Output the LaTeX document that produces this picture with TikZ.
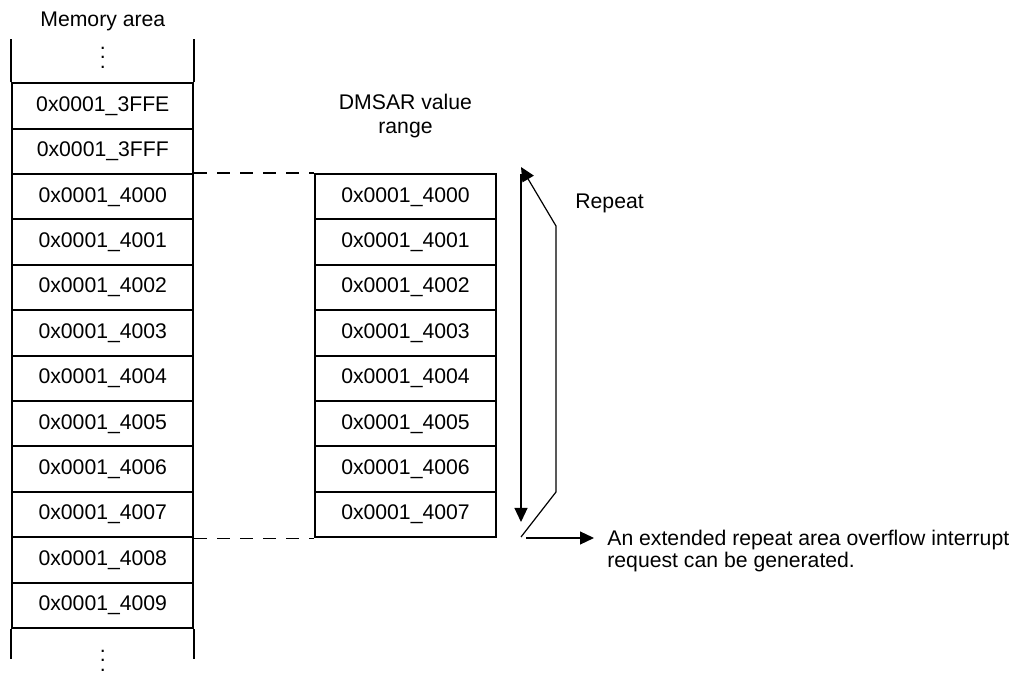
\documentclass[tikz,border=0pt]{standalone}
\usepackage{fontspec}
\setmainfont{Liberation Sans}
\usetikzlibrary{arrows.meta,positioning}
\newcommand{\coldots}{\vbox{\baselineskip4.75pt\lineskiplimit0pt\hbox{.}\hbox{.}\hbox{.}}}

\begin{document}
\begin{tikzpicture}[x=0.5pt, y=-0.5pt, >={Triangle[length=7pt,width=6.5pt]},
  cell/.style={draw, line width=1pt, minimum width=90.5pt, minimum height=22.7pt,
    inner sep=0pt, font=\fontsize{10.6}{12}\selectfont},
  lbl/.style={font=\fontsize{10.6}{11}\selectfont, inner sep=0pt},
  guide/.style={line width=0.6pt, dash pattern=on 6.5pt off 5pt},
  flow/.style={line width=0.6pt}]
\useasboundingbox (0,0) rectangle (1019,673);
% memory area column
\node[lbl] (memttl) at (102.8,21) {Memory area};
\foreach \a [count=\k] in {3FFE,3FFF,4000,4001,4002,4003,4004,4005,4006,4007,4008,4009}
  \node[cell] (m\k) at (102.8,{60.6+45.4*\k}) {0x0001\_\a};
\draw[line width=1pt] (m1.north west) -- ++(0,-43.3);
\draw[line width=1pt] (m1.north east) -- ++(0,-43.3);
\draw[line width=1pt] (m12.south west) -- ++(0,30);
\draw[line width=1pt] (m12.south east) -- ++(0,30);
\node[lbl, anchor=base] (topdots) at (102.8,68.5) {\coldots};
\node[lbl, anchor=base] (botdots) at (102.8,671.5) {\coldots};
% DMSAR range column
\node[lbl, align=center, font=\fontsize{10.6}{11.6}\selectfont] (dmttl) at (405.5,116)
  {DMSAR value\\range};
\foreach \a [count=\j from 3] in {4000,4001,4002,4003,4004,4005,4006,4007}
  \node[cell] (d\j) at (405.5,{60.6+45.4*\j}) {0x0001\_\a};
\draw[guide] (m3.north east) -- (d3.north west);
\draw[guide] (m10.south east) -- (d10.south west);
% repeat arrows
\coordinate (rtop) at (521,174);
\coordinate (rbot) at (521,522);
\coordinate (wrap) at (521,537);
\coordinate (wrapup) at (521,167);
\draw[flow,->] (rtop) -- (rbot);
\draw[flow,->] (wrap) -- (556,492) -- (556,226) -- (wrapup);
\node[lbl, anchor=west] (rpt) at (575,203) {Repeat};
\node[lbl, anchor=north west, align=left] (ovf) at (607,530)
  {An extended repeat area overflow interrupt\\request can be generated.};
\coordinate (ovfin) at (526,538);
\coordinate (ovfout) at (594,538);
\draw[flow,->] (ovfin) -- (ovfout);
\end{tikzpicture}
\end{document}
